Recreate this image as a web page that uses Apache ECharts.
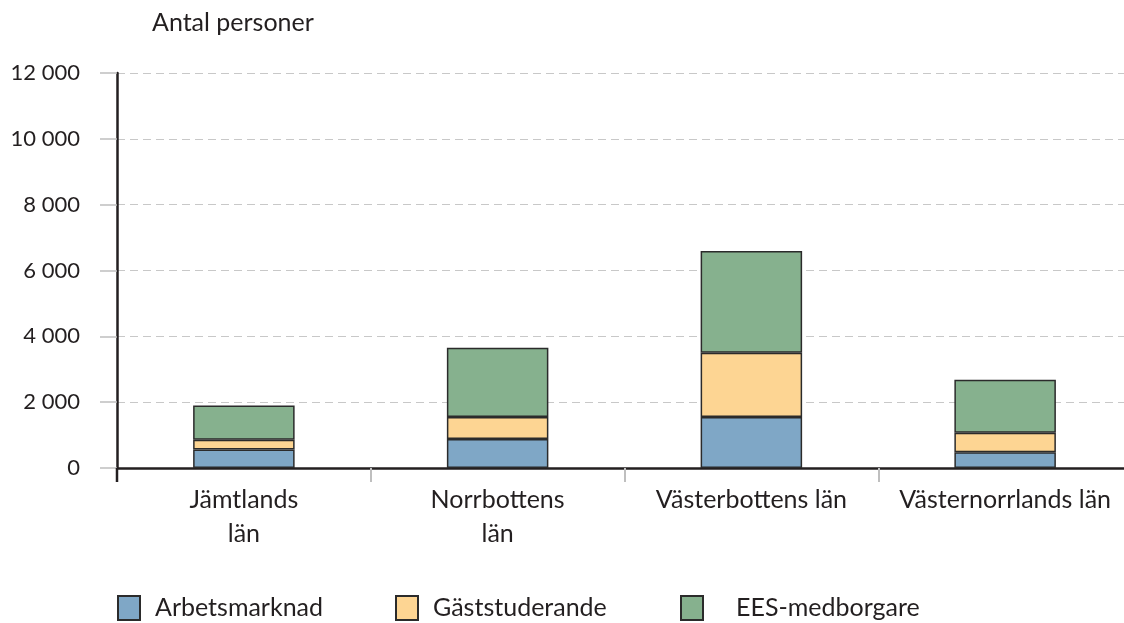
<!DOCTYPE html>
<html><head><meta charset="utf-8">
<script src="https://cdn.jsdelivr.net/npm/echarts@6/dist/echarts.min.js"></script>
<style>html,body{margin:0;padding:0;background:#fff;overflow:hidden;width:1124px;height:623px}#c{width:1138px;height:623px}</style>
</head><body><div id="c"></div>
<script>
const categories = ["Jämtlands\nlän", "Norrbottens\nlän", "Västerbottens län", "Västernorrlands län"];
const arbetsmarknad = [560, 880, 1550, 480];
const gaststuderande = [300, 670, 1950, 590];
const eesMedborgare = [1040, 2100, 3090, 1610];
const seriesNames = ["Arbetsmarknad", "Gäststuderande", "EES-medborgare"];
const yTicks = [0, 2000, 4000, 6000, 8000, 10000, 12000];

const font = "Lato, 'Open Sans', sans-serif";
const txt = "#231f20";
const colors = ["#7fa7c6", "#fdd593", "#86b18e"];
const chart = echarts.init(document.getElementById('c'), null, {renderer: 'canvas'});
const mkSeries = (name, data, color) => ({
  name, type: 'bar', stack: 'tot', data, barWidth: '40%',
  itemStyle: {color, borderColor: '#2b2b2b', borderWidth: 1.5},
  emphasis: {disabled: true}
});
const legendBase = {
  top: 595, itemWidth: 22, itemHeight: 24, itemGap: 30,
  icon: 'rect', padding: 0,
  textStyle: {fontFamily: font, fontSize: 25, color: txt, padding: [0, 0, 0, 10]}
};
chart.setOption({
  animation: false,
  color: colors,
  grid: {left: 117, right: 6, top: 73, height: 395, containLabel: false},
  legend: [
    Object.assign({}, legendBase, {left: 117, data: [seriesNames[0]]}),
    Object.assign({}, legendBase, {left: 395, data: [seriesNames[1]]}),
    Object.assign({}, legendBase, {left: 680, data: [seriesNames[2]], textStyle: Object.assign({}, legendBase.textStyle, {padding: [0, 0, 0, 28]})})
  ],
  xAxis: {
    type: 'category', data: categories,
    axisLine: {lineStyle: {color: '#231f20', width: 2.5}},
    axisTick: {show: true, length: 14, lineStyle: {color: '#bfbfbf', width: 2}},
    axisLabel: {fontFamily: font, fontSize: 25, color: txt, margin: 15, lineHeight: 34, interval: 0}
  },
  yAxis: {
    type: 'value', min: 0, max: 12000, interval: 2000,
    name: 'Antal personer',
    nameLocation: 'end', nameGap: 38,
    nameTextStyle: {fontFamily: font, fontSize: 25, color: txt, align: 'left', padding: [0, 0, 0, 35]},
    axisLine: {show: true, lineStyle: {color: '#231f20', width: 2.5}},
    axisTick: {show: true, inside: false, length: 17, lineStyle: {color: '#bfbfbf', width: 1.5}},
    axisLabel: {fontFamily: font, fontSize: 22, color: txt, margin: 37,
      formatter: v => yTicks.includes(v) ? String(v).replace(/\B(?=(\d{3})+(?!\d))/g, ' ') : ''},
    splitLine: {show: true, lineStyle: {color: '#c8c8c8', width: 1.2, type: [8, 5]}}
  },
  series: [
    mkSeries(seriesNames[0], arbetsmarknad, colors[0]),
    mkSeries(seriesNames[1], gaststuderande, colors[1]),
    mkSeries(seriesNames[2], eesMedborgare, colors[2])
  ]
});
const p0 = chart.convertToPixel({gridIndex: 0}, [0, 0]);
const x0 = chart.getModel().getComponent('grid', 0).coordinateSystem.getRect().x;
chart.setOption({graphic: [{type: 'line', shape: {x1: x0, y1: p0[1], x2: x0, y2: p0[1] + 14}, style: {stroke: '#231f20', lineWidth: 2.5}, z: 100}]});
</script></body></html>
